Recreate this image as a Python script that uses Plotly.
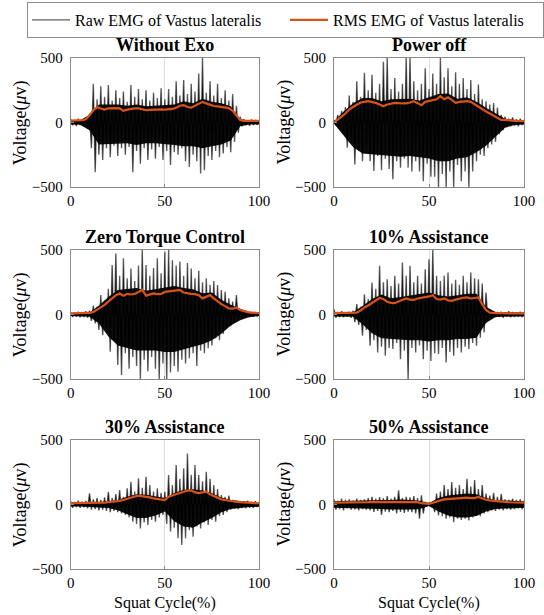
import plotly.graph_objects as go

# ---------------- data ----------------
panel_titles = ["Without Exo", "Power off", "Zero Torque Control",
                "10% Assistance", "30% Assistance", "50% Assistance"]

# raw EMG peaks: positive peaks at even %, negative peaks at odd %
cycle_even = list(range(0, 101, 2))
cycle_odd = list(range(1, 100, 2))
# extent of the dense (solid) part of the raw signal, every 5 %
core_x = list(range(0, 101, 5))

raw_up_without_exo = [25,18,30,22,35,70,300,180,280,200, 290,170,250,190,240,160,290,200,260,180,
                      250,170,230,190,265,180,260,200,320,210, 330,220,300,240,380,500,230,320,210,300,
                      190,250,170,220,130,45,25,18,24,20, 15]
raw_lo_without_exo = [-22,-28,-20,-30,-50,-200,-385,-250,-290,-200, -270,-180,-260,-200,-250,-190,-385,-220,-320,-200,
                      -290,-210,-280,-190,-290,-220,-330,-230,-250,-200, -300,-345,-250,-300,-395,-370,-260,-290,-220,-270,
                      -240,-190,-230,-150,-80,-30,-22,-25,-20,-18]
core_up_without_exo = [15,18,60,140,140,140,130,140,125,130,130,140,165,150,185,160,150,125,25,15,15]
core_lo_without_exo = [-15,-18,-60,-170,-165,-165,-160,-175,-160,-160,-165,-175,-185,-185,-200,-185,-170,-140,-30,-15,-15]
rms_without_exo = [15,15,15,18,25,55,95,118,108,100, 110,112,112,110,90,100,108,110,110,100,
                   95,98,100,100,102,100,102,105,115,130, 135,120,115,130,150,160,148,135,128,125,
                   120,118,112,90,55,20,12,12,12,12, 12]

raw_up_power_off = [20,60,90,120,210,160,320,200,385,250, 370,230,300,470,500,260,345,240,300,500,
                    500,320,250,300,420,260,380,300,500,350, 420,280,390,300,345,260,330,220,295,180,
                    165,140,150,115,60,45,30,40,25,30, 20]
raw_lo_power_off = [-20,-50,-80,-196,-150,-325,-220,-300,-240,-300, -375,-260,-370,-280,-360,-440,-300,-350,-280,-350,
                    -380,-300,-380,-455,-320,-420,-420,-500,-400,-500, -380,-500,-330,-455,-380,-500,-380,-300,-250,-260,
                    -200,-170,-150,-90,-60,-35,-30,-25,-30,-20]
core_up_power_off = [10,85,150,190,190,165,180,180,185,170,195,220,225,185,195,160,115,70,30,20,15]
core_lo_power_off = [-10,-100,-190,-240,-250,-250,-260,-265,-260,-270,-280,-300,-300,-280,-270,-230,-180,-110,-40,-20,-15]
rms_power_off = [0,20,45,70,100,120,140,155,160,165, 158,152,140,126,140,148,152,150,150,148,
                 155,165,150,134,160,165,170,180,204,180, 196,175,152,160,165,165,160,140,125,100,
                 85,70,55,35,20,20,15,15,12,12, 10]

raw_up_zero_torque = [20,15,22,18,25,30,70,60,150,110, 200,383,473,300,435,280,357,260,380,500,
                      383,300,360,435,320,486,500,420,380,410, 300,400,357,280,340,250,280,230,260,228,
                      190,177,125,100,150,40,25,20,18,20, 15]
raw_lo_zero_torque = [-20,-18,-22,-20,-25,-50,-70,-120,-160,-130, -288,-200,-391,-468,-300,-420,-330,-400,-500,-350,
                      -440,-330,-420,-500,-380,-500,-450,-400,-443,-350, -380,-340,-300,-400,-280,-300,-262,-240,-185,-200,
                      -150,-107,-90,-55,-50,-25,-20,-22,-18,-15]
core_up_zero_torque = [12,12,15,70,135,190,195,205,185,195,210,220,205,195,165,170,115,75,45,20,12]
core_lo_zero_torque = [-12,-15,-18,-70,-170,-240,-260,-280,-280,-280,-290,-290,-270,-250,-230,-200,-150,-85,-45,-20,-12]
rms_zero_torque = [8,8,8,8,10,12,20,35,55,75, 100,130,150,163,146,160,155,160,175,190,
                   146,155,163,158,160,175,180,182,188,190, 170,163,160,158,150,125,140,150,125,100,
                   80,65,48,45,53,35,25,18,15,12, 10]

raw_up_assist10 = [40,20,25,18,22,30,80,60,157,120, 248,200,377,250,274,220,300,240,403,300,
                   377,250,300,240,351,428,500,300,260,300, 325,240,270,230,300,250,325,280,274,240,
                   170,40,25,20,22,18,25,20,18,22, 20]
raw_lo_assist10 = [-25,-20,-22,-18,-25,-60,-80,-165,-120,-242, -200,-294,-250,-320,-260,-268,-220,-346,-280,-500,
                   -260,-294,-240,-346,-280,-360,-300,-307,-260,-372, -290,-320,-260,-294,-250,-268,-220,-242,-180,-140,
                   -50,-25,-22,-20,-25,-18,-22,-20,-18,-20]
core_up_assist10 = [15,15,18,65,120,155,125,135,145,155,170,150,140,150,160,160,60,20,15,15,15]
core_lo_assist10 = [-15,-15,-18,-75,-145,-185,-190,-195,-200,-200,-210,-200,-200,-190,-190,-180,-65,-20,-15,-15,-15]
rms_assist10 = [10,10,10,10,10,12,15,30,55,70, 90,110,128,120,98,90,88,100,110,124,
                115,113,124,128,132,140,150,120,115,124, 110,106,115,124,130,132,124,128,132,80,
                35,15,10,10,10,8,8,8,8,8, 8]

raw_up_assist30 = [25,20,30,22,28,86,40,50,35,55, 99,50,80,112,60,125,177,100,203,130,
                   215,151,100,125,90,99,228,150,306,200, 280,396,230,306,228,180,254,200,151,120,
                   73,60,70,35,30,28,25,30,22,25, 20]
raw_lo_assist30 = [-25,-20,-25,-22,-30,-40,-35,-45,-40,-50, -60,-50,-60,-70,-81,-100,-133,-150,-185,-140,
                   -159,-120,-133,-100,-81,-150,-210,-180,-262,-313, -262,-200,-250,-170,-185,-140,-159,-120,-133,-90,
                   -81,-60,-40,-30,-35,-28,-30,-25,-28,-20]
core_up_assist30 = [15,15,18,20,25,35,60,80,75,62,50,90,115,118,108,88,55,35,25,20,18]
core_lo_assist30 = [-15,-15,-18,-22,-28,-45,-75,-105,-105,-85,-55,-130,-170,-180,-140,-105,-60,-35,-25,-20,-18]
rms_assist30 = [10,10,10,10,12,12,12,14,14,15, 18,20,22,28,35,45,55,62,68,65,
                60,55,48,45,42,35,60,70,80,86, 99,108,110,94,88,92,99,80,65,53,
                40,35,28,25,20,17,15,12,12,10, 10]

raw_up_assist50 = [40,30,45,35,40,30,45,35,40,50, 60,45,58,50,65,45,60,110,50,60,
                   55,65,50,72,20,15,20,85,100,150, 120,175,130,150,120,200,140,190,120,150,
                   85,70,90,60,80,40,35,45,35,40, 30]
raw_lo_assist50 = [-40,-35,-45,-30,-40,-38,-45,-35,-40,-45, -58,-50,-80,-55,-60,-50,-70,-58,-65,-55,
                   -60,-70,-110,-70,-15,-20,-60,-85,-90,-110, -100,-137,-110,-120,-110,-124,-100,-85,-90,-70,
                   -60,-45,-50,-40,-45,-35,-40,-35,-30,-35]
core_up_assist50 = [25,28,30,32,35,35,35,38,35,30,12,50,70,80,85,80,50,35,30,28,25]
core_lo_assist50 = [-25,-28,-30,-32,-35,-35,-38,-40,-38,-35,-12,-55,-85,-100,-100,-90,-55,-35,-30,-28,-25]
rms_assist50 = [14,14,14,15,15,15,15,16,16,18, 20,20,22,22,20,20,22,22,20,20,
                20,20,18,10,6,5,14,25,32,40, 42,45,48,50,52,53,50,50,58,45,
                37,32,28,25,22,20,18,16,15,14, 14]

raw_up = [raw_up_without_exo, raw_up_power_off, raw_up_zero_torque,
          raw_up_assist10, raw_up_assist30, raw_up_assist50]
raw_lo = [raw_lo_without_exo, raw_lo_power_off, raw_lo_zero_torque,
          raw_lo_assist10, raw_lo_assist30, raw_lo_assist50]
core_up = [core_up_without_exo, core_up_power_off, core_up_zero_torque,
           core_up_assist10, core_up_assist30, core_up_assist50]
core_lo = [core_lo_without_exo, core_lo_power_off, core_lo_zero_torque,
           core_lo_assist10, core_lo_assist30, core_lo_assist50]
rms = [rms_without_exo, rms_power_off, rms_zero_torque,
       rms_assist10, rms_assist30, rms_assist50]

x_ticks = [0, 50, 100]
y_ticks = [-500, 0, 500]

# ---------------- figure ----------------
W, H = 544, 615
FONT = "Liberation Serif"
RAW_COLOR = "rgba(0,0,0,0.62)"
RMS_COLOR = "#D95319"
FRAME = "#8a8a8a"

col_px = [(70.7, 259.0), (334.0, 524.0)]
row_px = [(58.0, 187.0), (250.0, 379.0), (440.0, 569.0)]

fig = go.Figure()
layout = {}
for k in range(6):
    r, c = divmod(k, 2)
    ax = "" if k == 0 else str(k + 1)
    xs, ys = [], []
    for i in range(len(cycle_odd)):
        xs += [cycle_even[i], cycle_odd[i]]
        ys += [raw_up[k][i], raw_lo[k][i]]
    xs.append(cycle_even[-1])
    ys.append(raw_up[k][-1])
    # solid core band of the raw signal
    fig.add_trace(go.Scatter(x=core_x + core_x[::-1], y=core_up[k] + core_lo[k][::-1],
                             mode="lines", fill="toself", fillcolor="rgba(0,0,0,0.95)",
                             line=dict(color="black", width=0),
                             showlegend=False, hoverinfo="skip",
                             xaxis="x" + ax, yaxis="y" + ax))
    fig.add_trace(go.Scatter(x=xs, y=ys, mode="lines", fill="tozeroy",
                             fillcolor="rgba(0,0,0,0.8)",
                             line=dict(color="black", width=0),
                             showlegend=False, hoverinfo="skip",
                             xaxis="x" + ax, yaxis="y" + ax))
    fig.add_trace(go.Scatter(x=xs, y=ys, mode="lines",
                             line=dict(color=RAW_COLOR, width=1.4),
                             name="Raw EMG of Vastus lateralis",
                             showlegend=(k == 0), legendgroup="raw",
                             xaxis="x" + ax, yaxis="y" + ax))
    fig.add_trace(go.Scatter(x=cycle_even, y=rms[k], mode="lines",
                             line=dict(color=RMS_COLOR, width=2.2),
                             name="RMS EMG of Vastus lateralis",
                             showlegend=(k == 0), legendgroup="rms",
                             xaxis="x" + ax, yaxis="y" + ax))
    x0, x1 = col_px[c]
    y0, y1 = row_px[r]
    layout["xaxis" + ax] = dict(
        domain=[x0 / W, x1 / W], anchor="y" + ax, range=[0, 100], automargin=False,
        tickvals=x_ticks, showgrid=True, gridcolor="#dcdcdc", gridwidth=1,
        zeroline=False, showline=True, mirror=True, linecolor=FRAME, linewidth=1,
        ticks="inside", ticklen=3, tickcolor=FRAME,
        tickfont=dict(family=FONT, size=15, color="black"))
    layout["yaxis" + ax] = dict(
        domain=[1 - y1 / H, 1 - y0 / H], anchor="x" + ax, range=[-500, 500], automargin=False,
        tickvals=y_ticks, showgrid=False, zeroline=False,
        showline=True, mirror=True, linecolor=FRAME, linewidth=1,
        ticks="inside", ticklen=3, tickcolor=FRAME, ticklabelstandoff=4,
        tickfont=dict(family=FONT, size=15, color="black"))

annotations = []
for k in range(6):
    r, c = divmod(k, 2)
    x0, x1 = col_px[c]
    y0, y1 = row_px[r]
    annotations.append(dict(text="<b>" + panel_titles[k] + "</b>", xref="paper", yref="paper",
                            x=(x0 + x1) / 2 / W, y=1 - (y0 - 1) / H, xanchor="center", yanchor="bottom",
                            showarrow=False, font=dict(family=FONT, size=18, color="black")))
    annotations.append(dict(text="Voltage(<i>μ</i>v)", xref="paper", yref="paper",
                            x=(x0 - 50) / W, y=1 - (y0 + y1) / 2 / H, xanchor="center", yanchor="middle",
                            textangle=-90, showarrow=False,
                            font=dict(family=FONT, size=18, color="black")))
    if r == 2:
        annotations.append(dict(text="Squat Cycle(%)", xref="paper", yref="paper",
                                x=(x0 + x1) / 2 / W, y=1 - 603 / H, xanchor="center", yanchor="middle",
                                showarrow=False, font=dict(family=FONT, size=16, color="black")))

fig.update_layout(
    width=W, height=H, margin=dict(l=0, r=0, t=0, b=0, pad=0),
    paper_bgcolor="white", plot_bgcolor="white",
    font=dict(family=FONT, color="black"),
    showlegend=True,
    legend=dict(orientation="h", x=28 / W, y=1 - 2 / H, xanchor="left", yanchor="top",
                bordercolor="#8a8a8a", borderwidth=1, bgcolor="white",
                font=dict(family=FONT, size=16, color="black"),
                entrywidth=205, itemwidth=38, tracegroupgap=0),
    annotations=annotations,
    **layout)

fig.write_html("out.html", config={"displayModeBar": False},
               post_script="document.body.style.margin='0px';")
